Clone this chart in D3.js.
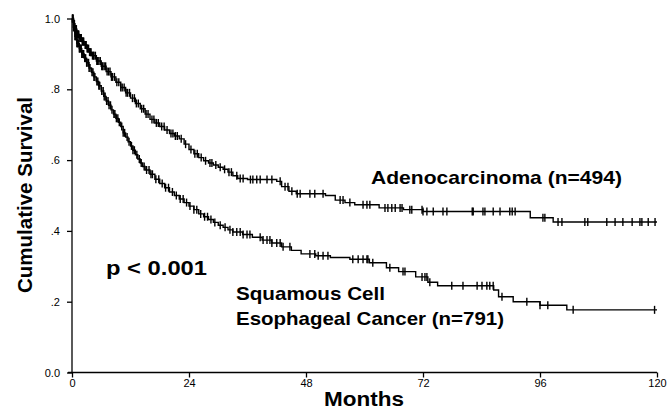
<!DOCTYPE html>
<html><head><meta charset="utf-8">
<script src="https://cdn.jsdelivr.net/npm/d3@7/dist/d3.min.js"></script>
<style>body{margin:0;background:#fff}svg{display:block}text{font-family:"Liberation Sans",Arial,sans-serif;fill:#000}</style>
</head><body><svg id="c" width="670" height="409"></svg>
<script>
// ---- data ----
const xTicks = [0, 24, 48, 72, 96, 120];
const yTicks = [0, 0.2, 0.4, 0.6, 0.8, 1.0];
const yTickLabels = ["0.0", ".2", ".4", ".6", ".8", "1.0"];
const maxMonth = 120;

// Adenocarcinoma step points [month, survival]
const adenoSteps = [[0,1.0],[0.3,0.985],[0.6,0.97],[1,0.955],[1.5,0.945],[2,0.935],[2.5,0.925],[3,0.915],[3.5,0.905],[4,0.895],[5,0.88],[6,0.865],[7,0.85],[8,0.835],[9,0.82],[10,0.805],[11,0.79],[12,0.775],[13,0.76],[14,0.745],[15,0.73],[16,0.715],[17,0.705],[18,0.695],[19,0.685],[20,0.675],[21,0.668],[22,0.66],[23,0.645],[24,0.63],[25,0.618],[26,0.607],[27,0.598],[28,0.592],[29,0.586],[30,0.58],[31,0.574],[32,0.566],[33,0.556],[34,0.548],[36,0.545],[42,0.54],[43,0.525],[44.5,0.512],[46,0.505],[52,0.5],[54,0.487],[56,0.48],[58,0.474],[63,0.465],[68,0.46],[72,0.455],[94,0.437],[98.7,0.425]];
const adenoCensor = [0.1,0.2,0.3,0.4,0.5,0.6,0.7,0.8,0.9,1.0,1.1,1.2,1.3,1.4,1.6,1.7,1.8,1.9,2.1,2.2,2.3,2.4,2.7,2.8,2.9,3.1,3.2,3.4,3.6,3.8,3.9,4.2,4.4,4.5,4.8,5.1,5.2,5.5,5.8,6.1,6.3,6.6,6.9,7.2,7.5,7.8,8.1,8.3,8.7,9.2,9.6,10.0,10.3,10.7,11.1,11.4,11.8,12.4,12.8,13.2,13.6,14.3,14.7,15.2,15.6,16.4,16.8,17.3,17.7,18.4,18.9,19.5,20.3,20.7,21.2,21.6,22.4,23.3,24.4,25.2,25.7,26.5,27.4,28.3,28.7,29.5,30.4,31.3,32.2,32.7,33.8,34.5,35.1,36.6,37.1,37.9,38.6,40,41,42.7,43.7,44.3,45.1,46.2,46.8,48.8,49.8,51.5,55,55.6,57,59.7,60.5,61.1,64.2,64.8,65.6,66.3,67.3,67.7,69.3,69.7,71.8,72,72.8,74.1,76.1,76.9,82.1,82.3,84.3,84.7,86.4,87.8,89.8,90.3,90.9,96.6,97,99.7,100.5,105.2,105.8,109.7,111.4,113,114.9,116.5,116.9,118.2,119.6];

// Squamous cell step points [month, survival]
const sccSteps = [[0,1],[0.3,0.975],[0.6,0.95],[1,0.93],[1.5,0.915],[2,0.9],[2.5,0.888],[3,0.875],[3.5,0.86],[4,0.848],[4.5,0.835],[5,0.822],[5.5,0.81],[6,0.795],[6.5,0.78],[7,0.767],[7.5,0.755],[8,0.742],[8.5,0.73],[9,0.718],[9.5,0.707],[10,0.695],[10.5,0.677],[11,0.665],[11.5,0.652],[12,0.64],[12.5,0.628],[13,0.615],[13.5,0.603],[14,0.592],[14.5,0.582],[15,0.572],[16,0.56],[17,0.546],[18,0.534],[19,0.522],[20,0.51],[21,0.5],[22,0.49],[23,0.48],[24,0.47],[25,0.46],[26,0.448],[27,0.44],[28,0.432],[29,0.424],[30,0.416],[31,0.41],[32,0.403],[33,0.397],[35,0.39],[37,0.382],[39,0.374],[41,0.366],[43,0.355],[45,0.345],[47,0.335],[50,0.33],[53,0.325],[57,0.32],[61,0.31],[64.5,0.296],[67,0.285],[70.5,0.27],[73,0.255],[75,0.245],[86.5,0.233],[87.5,0.214],[90.5,0.2],[96,0.19],[101.5,0.177]];
const sccCensor = [0.1,0.2,0.3,0.4,0.5,0.6,0.7,0.8,0.9,1.0,1.1,1.2,1.3,1.5,1.6,1.7,1.9,2.0,2.2,2.4,2.6,2.8,3.0,3.1,3.4,3.5,3.7,4.1,4.3,4.5,4.7,5.1,5.3,5.5,5.7,6.1,6.4,6.6,6.8,7.1,7.4,7.6,7.9,8.2,8.6,8.8,9.1,9.4,9.7,10.2,10.5,10.8,11.3,11.7,12.2,12.5,12.8,13.3,13.8,14.2,14.8,15.3,15.8,16.2,16.5,17.2,17.8,18.5,19.2,19.8,20.6,21.4,22.2,22.8,23.5,24.2,25.0,25.6,26.4,27.2,27.8,28.5,29.3,30.4,31.4,32.4,33,33.8,34.5,35.1,35.9,36.5,38.6,39.2,40,40.6,41,42,42.7,43.3,44.7,48.8,49.8,50.5,51.5,52.5,57.6,58.7,59.7,60.5,60.7,61.7,65.2,67.9,68.3,71.8,72.4,72.8,73.4,77.9,80.2,83.1,84.1,85.1,85.7,86.4,88.2,93.3,96,97.6,102.8,119.5];

// ---- drawing ----
const svg = d3.select("#c");
const x = d3.scaleLinear().domain([0, 120]).range([72, 657]);
const y = d3.scaleLinear().domain([0, 1]).range([372.5, 18.5]);

function survAt(steps, t) {
  let s = steps[0][1];
  for (const p of steps) { if (p[0] <= t) s = p[1]; else break; }
  return s;
}

// axes
const yAxis = d3.axisLeft(y).tickValues(yTicks).tickSize(5).tickFormat((d,i)=>yTickLabels[i]);
const gy = svg.append("g").attr("transform","translate(72,0)").call(yAxis);
gy.select(".domain").attr("d","M0,18.5V372.5").attr("stroke","#000").attr("stroke-width",1.3);
gy.selectAll(".tick line").attr("stroke","#000").attr("stroke-width",1.3);
gy.selectAll(".tick text").attr("x",-12).attr("dy","0.32em").style("font-size","11px").style("font-family","Liberation Sans, Arial, sans-serif");

const xAxis = d3.axisBottom(x).tickValues(xTicks).tickSize(5).tickFormat(d3.format("d"));
const gx = svg.append("g").attr("transform","translate(0,372.5)").call(xAxis);
gx.select(".domain").attr("d","M68,0H657").attr("stroke","#000").attr("stroke-width",1.5);
gx.selectAll(".tick line").attr("stroke","#000").attr("stroke-width",1.3);
gx.selectAll(".tick text").attr("y",7).attr("dy","0.71em").style("font-size","11px").style("font-family","Liberation Sans, Arial, sans-serif");

// curves
function drawCurve(steps, censor) {
  const pts = steps.concat([[maxMonth, steps[steps.length-1][1]]]);
  const line = d3.line().x(d=>x(d[0])).y(d=>y(d[1])).curve(d3.curveStepAfter);
  svg.append("path").datum(pts).attr("d", line).attr("fill","none").attr("stroke","#000").attr("stroke-width",1.4);
  svg.append("g").selectAll("line").data(censor).join("line")
    .attr("x1", d=>x(d)).attr("x2", d=>x(d))
    .attr("y1", d=>y(survAt(steps,d))-4).attr("y2", d=>y(survAt(steps,d))+4)
    .attr("stroke","#000").attr("stroke-width",1.4);
}
drawCurve(adenoSteps, adenoCensor);
drawCurve(sccSteps, sccCensor);

// labels
function label(txt, xx, yy, size, len, anchor) {
  const t = svg.append("text").attr("x",xx).attr("y",yy)
    .style("font-size",size+"px").style("font-weight","bold").text(txt);
  if (anchor) t.attr("text-anchor", anchor);
  if (len) t.attr("textLength", len).attr("lengthAdjust","spacingAndGlyphs");
  return t;
}
svg.append("text").attr("transform","translate(32,195) rotate(-90)").attr("text-anchor","middle")
  .attr("textLength",196).attr("lengthAdjust","spacingAndGlyphs")
  .style("font-size","19.5px").style("font-weight","bold").text("Cumulative Survival");
label("Months", 364, 406, 19.5, 80, "middle");
label("p < 0.001", 106, 275, 21, 101);
label("Adenocarcinoma (n=494)", 371, 184, 19, 251);
label("Squamous Cell", 236, 300, 19, 149);
label("Esophageal Cancer (n=791)", 236, 325, 19, 268);
</script></body></html>
